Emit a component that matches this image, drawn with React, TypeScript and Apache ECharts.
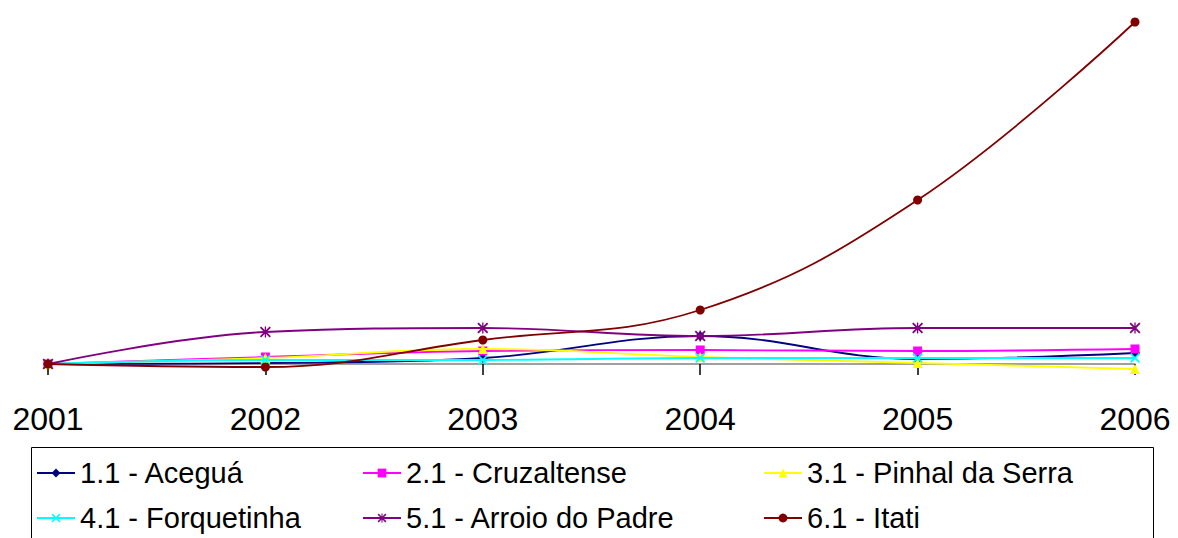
import React, { useEffect, useRef } from "react";
import * as echarts from "echarts";

const years = ["2001", "2002", "2003", "2004", "2005", "2006"];
const seriesNames = [
  "1.1 - Aceguá",
  "2.1 - Cruzaltense",
  "3.1 - Pinhal da Serra",
  "4.1 - Forquetinha",
  "5.1 - Arroio do Padre",
  "6.1 - Itati",
];
const acegua = [0, 1, 6, 28, 5, 11];
const cruzaltense = [0, 7, 13, 14, 13, 15];
const pinhal = [0, 6, 15, 7, 1, -5];
const forquetinha = [0, 4, 4, 6, 6, 6];
const arroio = [0, 32, 36, 28, 36, 36];
const itati = [0, -3, 24, 54, 164, 342];

const FONT = "'Liberation Sans', Arial, sans-serif";

const X_PATH =
  "path://M0,1.2 L1.2,0 L5,3.8 L8.8,0 L10,1.2 L6.2,5 L10,8.8 L8.8,10 L5,6.2 L1.2,10 L0,8.8 L3.8,5 Z";
const STAR_PATH =
  "path://M0,1.2 L1.2,0 L5,3.8 L8.8,0 L10,1.2 L6.2,5 L10,8.8 L8.8,10 L5,6.2 L1.2,10 L0,8.8 L3.8,5 Z M4.4,0 L5.6,0 L5.6,10 L4.4,10 Z";

export default function App() {
  const ref = useRef<HTMLDivElement>(null);
  useEffect(() => {
    if (!ref.current) return;
    const chart = echarts.init(ref.current, null, { renderer: "svg" });
    const data = [acegua, cruzaltense, pinhal, forquetinha, arroio, itati];
    const colors = ["#000080", "#FF00FF", "#FFFF00", "#00FFFF", "#800080", "#800000"];
    const symbols = ["diamond", "rect", "triangle", X_PATH, STAR_PATH, "circle"];
    const sizes = [10, 9, 10, 10, 11, 9];
    const legendPos = [
      [36, 457],
      [362, 457],
      [763, 457],
      [36, 502],
      [362, 502],
      [763, 502],
    ];
    chart.setOption({
      animation: false,
      backgroundColor: "#fff",
      grid: { left: 48, right: 43, top: 4, height: 380 },
      xAxis: {
        type: "category",
        data: years,
        boundaryGap: false,
        axisLine: { onZero: true, lineStyle: { color: "#808080", width: 1.5 } },
        axisTick: { show: true, length: 11, lineStyle: { color: "#000", width: 1.5 } },
        axisLabel: { fontSize: 32, fontFamily: FONT, color: "#000", margin: 19 },
        splitLine: { show: false },
      },
      yAxis: {
        type: "value",
        min: -20,
        max: 360,
        show: false,
        splitLine: { show: false },
      },
      legend: seriesNames.map((n, i) => ({
        data: [n],
        left: legendPos[i][0],
        top: legendPos[i][1],
        padding: 0,
        itemWidth: 38,
        itemHeight: 11,
        selectedMode: false,
        textStyle: { fontSize: 29, fontFamily: FONT, color: "#000", lineHeight: 32 },
      })),
      graphic: [
        {
          type: "rect",
          shape: { x: 31.5, y: 447.5, width: 1122, height: 120 },
          style: { fill: "none", stroke: "#000", lineWidth: 1 },
          z: -1,
        },
      ],
      series: seriesNames.map((n, i) => ({
        name: n,
        type: "line",
        data: data[i],
        smooth: 0.4,
        symbol: symbols[i],
        symbolSize: sizes[i],
        color: colors[i],
        lineStyle: { color: colors[i], width: 1.8 },
        itemStyle: { color: colors[i] },
        z: 2 + i,
      })),
    });
    return () => chart.dispose();
  }, []);
  return (
    <div
      ref={ref}
      style={{ position: "absolute", left: 0, top: 0, width: 1178, height: 538 }}
    />
  );
}
